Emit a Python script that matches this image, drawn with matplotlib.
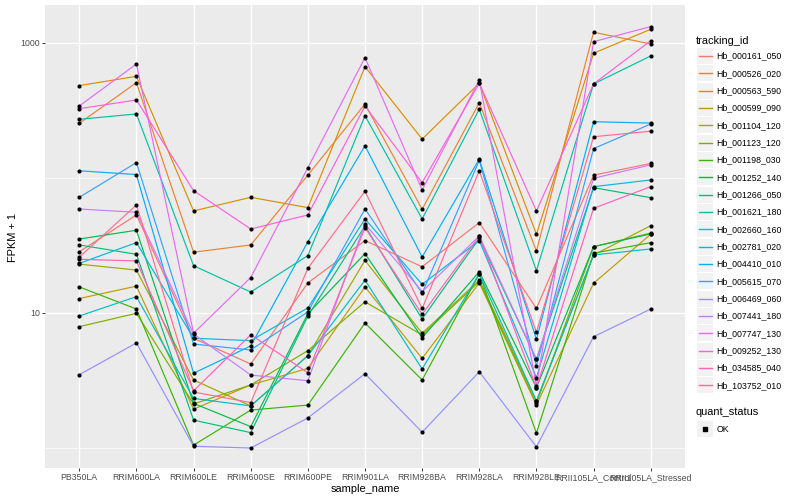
import matplotlib
matplotlib.use('Agg')
import matplotlib.pyplot as plt
from matplotlib.patches import Rectangle
from matplotlib.lines import Line2D
from matplotlib.ticker import NullFormatter

plt.rcParams['font.family'] = ['Liberation Sans', 'DejaVu Sans']

samples = ['PB350LA', 'RRIM600LA', 'RRIM600LE', 'RRIM600SE', 'RRIM600PE',
           'RRIM901LA', 'RRIM928BA', 'RRIM928LA', 'RRIM928LE',
           'RRII105LA_Control', 'RRII105LA_Stressed']

tracking_ids = ['Hb_000161_050', 'Hb_000526_020', 'Hb_000563_590', 'Hb_000599_090',
                'Hb_001104_120', 'Hb_001123_120', 'Hb_001198_030', 'Hb_001252_140',
                'Hb_001266_050', 'Hb_001621_180', 'Hb_002660_160', 'Hb_002781_020',
                'Hb_004410_010', 'Hb_005615_070', 'Hb_006469_060', 'Hb_007441_180',
                'Hb_007747_130', 'Hb_009252_130', 'Hb_034585_040', 'Hb_103752_010']

# FPKM + 1, one list per gene, in sample order
hb_000161_050 = [28.4, 53.2, 6.5, 4.19, 16.7, 34.4, 22.0, 46.7, 10.8, 105, 128]
hb_000526_020 = [254, 508, 28.2, 31.9, 105, 353, 58.6, 361, 28.8, 1200, 983]
hb_000563_590 = [483, 566, 57.0, 71.9, 60.3, 667, 194, 503, 38.3, 839, 1263]
hb_000599_090 = [12.8, 15.8, 1.94, 2.93, 3.89, 15.6, 4.61, 16.7, 2.08, 16.6, 38.3]
hb_001104_120 = [23.0, 20.8, 3.19, 2.05, 4.83, 24.5, 7.08, 17.5, 2.23, 26.9, 44.3]
hb_001123_120 = [7.92, 9.95, 2.12, 2.93, 5.26, 12.1, 6.87, 17.1, 2.14, 31.0, 39.1]
hb_001198_030 = [15.6, 10.7, 1.05, 1.91, 2.08, 8.43, 3.19, 19.5, 1.29, 27.7, 33.2]
hb_001252_140 = [35.3, 41.0, 2.14, 1.44, 9.88, 27.5, 6.56, 20.2, 2.80, 31.0, 38.5]
hb_001266_050 = [31.9, 27.2, 1.61, 1.30, 9.50, 44.1, 9.03, 35.7, 4.54, 84.7, 71.5]
hb_001621_180 = [272, 298, 22.4, 14.3, 26.6, 289, 49.7, 323, 20.6, 497, 801]
hb_002660_160 = [9.50, 13.2, 2.33, 2.05, 4.83, 17.5, 3.85, 19.5, 2.23, 26.9, 29.8]
hb_002781_020 = [23.3, 33.2, 6.5, 6.24, 10.9, 49.7, 16.3, 34.4, 3.32, 86.2, 96.6]
hb_004410_010 = [113, 106, 3.58, 5.70, 33.7, 173, 26.0, 138, 6.38, 261, 255]
hb_005615_070 = [71.9, 130, 5.89, 5.32, 10.2, 58.9, 14.0, 135, 4.07, 165, 251]
hb_006469_060 = [3.49, 6.00, 1.03, 1.00, 1.67, 3.55, 1.31, 3.67, 1.02, 6.67, 10.7]
hb_007441_180 = [58.9, 55.7, 6.98, 3.47, 3.15, 45.6, 14.4, 37.2, 4.54, 99.5, 125]
hb_007747_130 = [341, 699, 7.08, 18.3, 119, 778, 81.5, 532, 2.89, 1022, 1321]
hb_009252_130 = [326, 378, 80.5, 41.9, 53.2, 341, 92.3, 503, 57.0, 497, 1040]
hb_034585_040 = [25.0, 24.3, 2.65, 6.90, 3.61, 42.8, 9.78, 37.2, 2.80, 59.6, 86.2]
hb_103752_010 = [25.9, 63.1, 2.6, 2.17, 21.4, 79.7, 10.8, 113, 7.19, 202, 222]

series = [hb_000161_050, hb_000526_020, hb_000563_590, hb_000599_090, hb_001104_120,
          hb_001123_120, hb_001198_030, hb_001252_140, hb_001266_050, hb_001621_180,
          hb_002660_160, hb_002781_020, hb_004410_010, hb_005615_070, hb_006469_060,
          hb_007441_180, hb_007747_130, hb_009252_130, hb_034585_040, hb_103752_010]

# ggplot default hue palette for 20 levels
colours = ['#F8766D', '#EA8331', '#D89000', '#C09B00', '#A3A500', '#7CAE00', '#39B600',
           '#00BB4E', '#00BF7D', '#00C1A3', '#00BFC4', '#00BAE0', '#00B0F6', '#35A2FF',
           '#9590FF', '#C77CFF', '#E76BF3', '#FA62DB', '#FF62BC', '#FF6C91']

W, H = 800, 500
fig = plt.figure(figsize=(8, 5), dpi=100)
ax = fig.add_axes([45 / W, 32 / H, 640 / W, 463 / H])
ax.set_facecolor('#EBEBEB')

xs = list(range(len(samples)))
for vals, col in zip(series, colours):
    ax.plot(xs, vals, color=col, lw=0.85, zorder=2)
for vals in series:
    ax.scatter(xs, vals, s=9, color='black', linewidths=0, zorder=3)

ax.set_yscale('log')
ax.set_xlim(-0.6, 10.6)
ax.set_ylim(10 ** -0.148, 10 ** 3.281)
ax.set_yticks([10, 1000])
ax.set_yticklabels(['10', '1000'])
ax.set_yticks([1, 100], minor=True)
ax.yaxis.set_minor_formatter(NullFormatter())
ax.set_xticks(xs)
ax.set_xticklabels(samples)

ax.grid(which='major', color='white', lw=1.0)
ax.grid(which='minor', axis='y', color='white', lw=0.5)
ax.set_axisbelow(True)
for s in ax.spines.values():
    s.set_visible(False)
ax.tick_params(which='major', length=2, width=0.7, color='#333333',
               labelcolor='#4D4D4D', labelsize=6.3, pad=1.5)
ax.tick_params(which='minor', length=0)

fig.text(365 / W, 1 - 489 / H, 'sample_name', ha='center', va='center', fontsize=7.9)
fig.text(13 / W, 1 - 237 / H, 'FPKM + 1', ha='center', va='center', rotation=90, fontsize=7.9)

# legend: tracking_id
fig.text(696 / W, 1 - 40.7 / H, 'tracking_id', ha='left', va='center', fontsize=7.9)
for i, (name, col) in enumerate(zip(tracking_ids, colours)):
    cy = 56 + i * 17.33
    fig.add_artist(Rectangle((697 / W, 1 - (cy + 8) / H), 16 / W, 16 / H,
                             transform=fig.transFigure, facecolor='#F2F2F2', edgecolor='none'))
    fig.add_artist(Line2D([698.5 / W, 711.5 / W], [1 - cy / H, 1 - cy / H],
                          transform=fig.transFigure, color=col, lw=1.0))
    fig.text(716.5 / W, 1 - cy / H, name, ha='left', va='center', fontsize=6.3)

# legend: quant_status
fig.text(696 / W, 1 - 412 / H, 'quant_status', ha='left', va='center', fontsize=7.9)
fig.add_artist(Rectangle((697 / W, 1 - 437 / H), 16 / W, 16 / H,
                         transform=fig.transFigure, facecolor='#F2F2F2', edgecolor='none'))
fig.add_artist(Line2D([704.7 / W], [1 - 429 / H], transform=fig.transFigure,
                      marker='s', markersize=2.2, color='black', lw=0))
fig.text(716.5 / W, 1 - 429 / H, 'OK', ha='left', va='center', fontsize=6.3)

fig.savefig('out.png', dpi=100, facecolor='white')
